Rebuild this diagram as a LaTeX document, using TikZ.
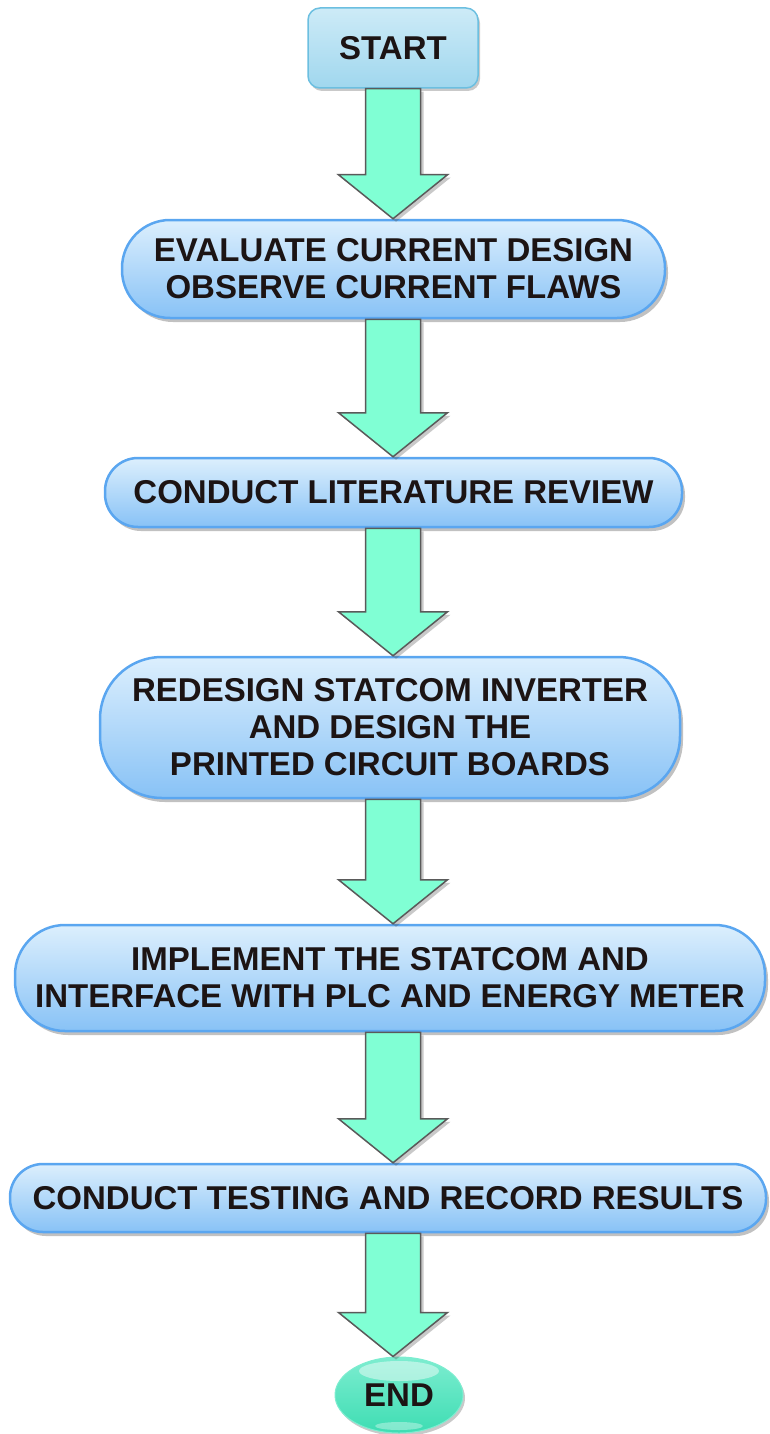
\documentclass[tikz,border=0pt]{standalone}
\usepackage{fontspec}
\setmainfont{Liberation Sans}
\usetikzlibrary{calc,shadows,shapes.geometric}
\definecolor{boxborder}{HTML}{5AA6F0}
\definecolor{boxtop}{HTML}{DCEFFD}
\definecolor{boxbot}{HTML}{88C2F6}
\definecolor{starttop}{HTML}{CDEBF7}
\definecolor{startbot}{HTML}{A0D7EE}
\definecolor{startborder}{HTML}{6CBFE0}
\definecolor{arrowfill}{HTML}{80FFD4}
\definecolor{arrowline}{HTML}{5A5A5A}
\definecolor{endfill}{HTML}{3EDDB3}
\definecolor{endtop}{HTML}{7DEDD0}
\definecolor{txt}{HTML}{1C1414}
\tikzset{
  x=1pt, y=-1pt,
  txtfont/.style={font=\fontsize{33}{37}\selectfont\bfseries, text=txt, align=center},
  pill/.style={draw=boxborder, line width=2.5pt, top color=boxtop, bottom color=boxbot,
    drop shadow={shadow xshift=3pt, shadow yshift=-4pt, opacity=0.35, fill=black!70},
    txtfont, inner sep=0pt},
  startbox/.style={draw=startborder, line width=1.5pt, top color=starttop, bottom color=startbot,
    rounded corners=12pt, minimum width=170pt, minimum height=80pt,
    drop shadow={shadow xshift=2pt, shadow yshift=-3pt, opacity=0.3, fill=black!70},
    txtfont, inner sep=0pt},
  endbox/.style={ellipse, draw=endtop, line width=1pt, top color=endtop, bottom color=endfill,
    minimum width=128pt, minimum height=76pt,
    drop shadow={shadow xshift=2pt, shadow yshift=-3pt, opacity=0.3, fill=black!70},
    txtfont, inner sep=0pt},
  blockarrow/.style={draw=arrowline, line width=1.5pt, fill=arrowfill, line join=miter,
    drop shadow={shadow xshift=3pt, shadow yshift=-3pt, opacity=0.3, fill=black!70}},
}
\newcommand{\blockarr}[2]{%
  \draw[blockarrow] ($(#1.south -| ax)+(-27.5,0)$) -- ($(#2.north -| ax)+(-27.5,-44)$)
    -- ($(#2.north -| ax)+(-54.5,-44)$) -- (#2.north -| ax) -- ($(#2.north -| ax)+(54.5,-44)$)
    -- ($(#2.north -| ax)+(27.5,-44)$) -- ($(#1.south -| ax)+(27.5,0)$) -- cycle;}
\begin{document}
\begin{tikzpicture}
\useasboundingbox (0,0) rectangle (770,1434);
\coordinate (ax) at (393,0);
\node[startbox] (start) at (393,48) {START};
\node[pill, minimum width=543pt, minimum height=98pt, rounded corners=48pt] (eval) at (393.5,269)
  {EVALUATE CURRENT DESIGN\\OBSERVE CURRENT FLAWS};
\node[pill, minimum width=577pt, minimum height=69pt, rounded corners=33pt] (lit) at (393.5,492.5)
  {CONDUCT LITERATURE REVIEW};
\node[pill, minimum width=580pt, minimum height=141pt, rounded corners=62pt] (redesign) at (390,727.5)
  {REDESIGN STATCOM INVERTER\\AND DESIGN THE\\PRINTED CIRCUIT BOARDS};
\node[pill, minimum width=750pt, minimum height=106pt, rounded corners=50pt] (impl) at (390,978)
  {IMPLEMENT THE STATCOM AND\\INTERFACE WITH PLC AND ENERGY METER};
\node[pill, minimum width=756pt, minimum height=68pt, rounded corners=33pt] (test) at (388,1198)
  {CONDUCT TESTING AND RECORD RESULTS};
\node[endbox] (end) at (399,1395) {};
\fill[white, opacity=0.45] ($(end.center)+(0,-24)$) ellipse [x radius=40pt, y radius=10pt];
\fill[white, opacity=0.35] ($(end.center)+(0,31)$) ellipse [x radius=24pt, y radius=4pt];
\node[txtfont] (endlabel) at (end.center) {END};
\blockarr{start}{eval}
\blockarr{eval}{lit}
\blockarr{lit}{redesign}
\blockarr{redesign}{impl}
\blockarr{impl}{test}
\blockarr{test}{end}
\end{tikzpicture}
\end{document}
